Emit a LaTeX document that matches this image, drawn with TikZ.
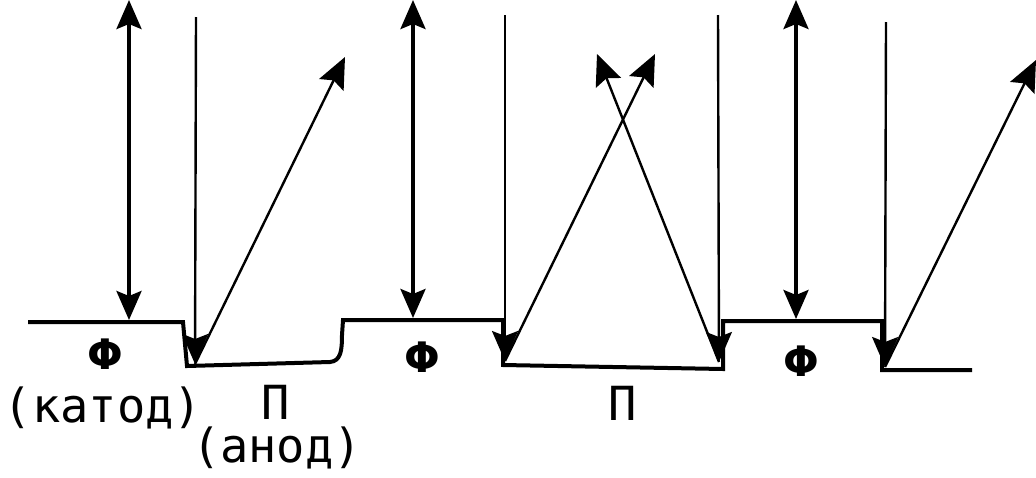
\documentclass[tikz,border=0pt]{standalone}
\usepackage{fontspec}
\setmonofont{DejaVu Sans Mono}
\newfontfamily\phifont{DejaVu Sans}
\usetikzlibrary{arrows.meta}
\tikzset{
  profile/.style={line width=4pt, line join=miter},
  dbl/.style={line width=3.6pt, {Stealth[length=29pt,width=25pt,inset=5pt]}-{Stealth[length=29pt,width=25pt,inset=5pt]}},
  inc/.style={line width=2.4pt, -{Stealth[length=30pt,width=26pt,inset=5pt]}},
  refl/.style={line width=2.4pt, -{Stealth[length=31pt,width=27pt,inset=5pt]}},
  lbl/.style={font=\ttfamily\fontsize{47}{47}\selectfont, inner sep=0pt, anchor=base},
  phi/.style={font=\phifont\bfseries\fontsize{42}{42}\selectfont, inner sep=0pt, anchor=base}
}
\begin{document}
\begin{tikzpicture}[x=1pt,y=-1pt]
\useasboundingbox (0,0) rectangle (1036,477);
% profile
\draw[profile] (28,322) -- (183,322) -- (187,366) -- (330,362)
  .. controls (341,361) and (342,350) .. (342,335) -- (343,320) -- (503,320)
  -- (503,365) -- (723,369) -- (723,321) -- (882,321) -- (882,370) -- (972,370);
% coordinates
\coordinate (d1t) at (129,0);   \coordinate (d1b) at (129,320);
\coordinate (d2t) at (413,0);   \coordinate (d2b) at (413,318);
\coordinate (d3t) at (796,0);   \coordinate (d3b) at (796,319);
\coordinate (i1t) at (196,17);  \coordinate (i1b) at (195,364);
\coordinate (i2t) at (505,15);  \coordinate (i2b) at (505,361);
\coordinate (i3t) at (718,15);  \coordinate (i3b) at (719,362);
\coordinate (i4t) at (886,22);  \coordinate (i4b) at (885,367);
\coordinate (r1) at (345,57);
\coordinate (r2) at (655,54);
\coordinate (r3) at (597,54);
\coordinate (r4) at (1036,60);
% double arrows
\draw[dbl] (d1t) -- (d1b);
\draw[dbl] (d2t) -- (d2b);
\draw[dbl] (d3t) -- (d3b);
% incident
\draw[inc] (i1t) -- (i1b);
\draw[inc] (i2t) -- (i2b);
\draw[inc] (i3t) -- (i3b);
\draw[inc] (i4t) -- (i4b);
% reflected
\draw[refl] (i1b) -- (r1);
\draw[refl] (i2b) -- (r2);
\draw[refl] (i3b) -- (r3);
\draw[refl] (i4b) -- (r4);
% labels
\node[phi] (f1) at (105,369) {Φ};
\node[lbl] (k1) at (103,422) {(катод)};
\node[lbl] (p1) at (276,419) {П};
\node[lbl] (a1) at (277,462) {(анод)};
\node[phi] (f2) at (422,372) {Φ};
\node[lbl] (p2) at (623,420) {П};
\node[phi] (f3) at (801,376) {Φ};
\end{tikzpicture}
\end{document}
